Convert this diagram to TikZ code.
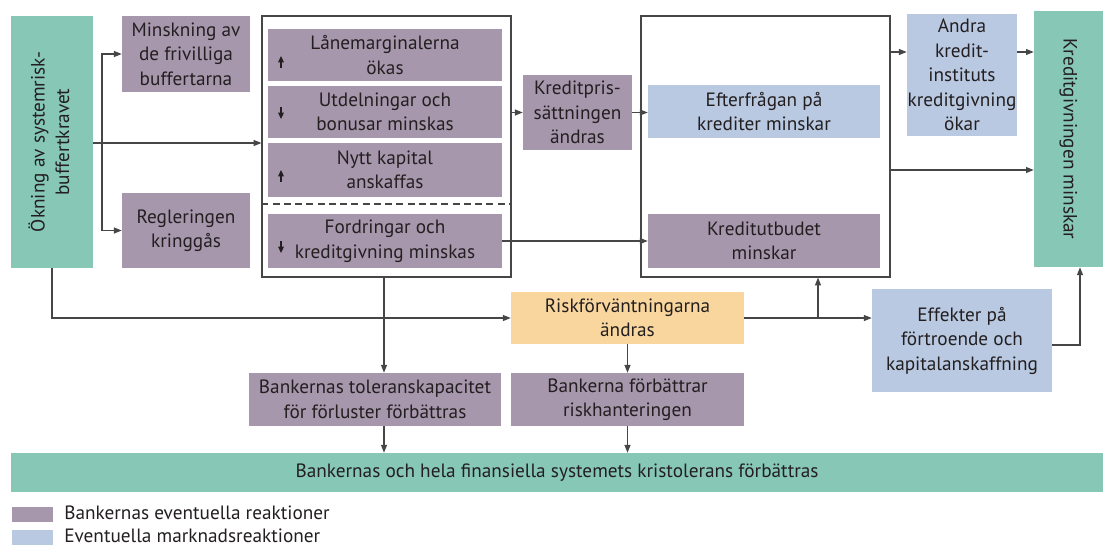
\documentclass[tikz,border=0pt]{standalone}
\usepackage{fontspec}
\setmainfont{PT Sans}
\usetikzlibrary{arrows.meta}

\definecolor{zise}{RGB}{167,151,173}
\definecolor{lanse}{RGB}{185,201,226}
\definecolor{lvse}{RGB}{135,199,182}
\definecolor{huangse}{RGB}{249,214,157}
\definecolor{xianse}{RGB}{70,70,70}
\definecolor{wenzi}{RGB}{35,31,32}

\begin{document}
\begin{tikzpicture}[x=0.025cm,y=-0.025cm,
  font=\fontsize{13.7}{17.4}\selectfont,text=wenzi,
  % 方框的大小:第一个参数是宽,第二个是高(单位都是像素)
  kuang/.style 2 args={minimum width=#1*0.025cm,minimum height=#2*0.025cm,
    inner sep=0pt,align=center},
  zihe/.style={fill=zise},
  lanhe/.style={fill=lanse},
  lvhe/.style={fill=lvse},
  huanghe/.style={fill=huangse},
  baikuang/.style={draw=xianse,line width=0.8pt,fill=white},
  % 连线和箭头
  jiantou/.style={draw=xianse,line width=0.8pt,-{Triangle[length=5.5pt,width=4.2pt]}},
  xiaojian/.style={draw=wenzi,line width=0.8pt,-{Triangle[length=4.5pt,width=4pt]}}]

  % 固定整张图的边界
  \useasboundingbox (0,0) rectangle (1103,547);

  % 左边和右边的绿色长条
  \node[lvhe,kuang={82}{252}] (okning) at (52,142)
    {\rotatebox{90}{\begin{tabular}{@{}c@{}}Ökning av systemrisk-\\buffertkravet\end{tabular}}};
  \node[lvhe,kuang={69}{256}] (kredmin) at (1068.5,139)
    {\rotatebox{-90}{Kreditgivningen minskar}};

  \node[zihe,kuang={128}{76}] (minsk) at (186,54) {Minskning av\\de frivilliga\\buffertarna};
  \node[zihe,kuang={128}{75}] (regl) at (186,230.5) {Regleringen\\kringgås};

  % 两个白色的大框
  \node[baikuang,kuang={249}{261}] (box1) at (386.5,146.5) {};
  \node[baikuang,kuang={249}{261}] (box2) at (765.5,146.5) {};

  % 第一个大框里面的方框
  \node[zihe,kuang={234}{52}] (lane) at (385,55) {Lånemarginalerna\\ökas};
  \node[zihe,kuang={234}{52}] (utdel) at (385,112) {Utdelningar och\\bonusar minskas};
  \node[zihe,kuang={234}{54}] (nytt) at (385,170) {Nytt kapital\\anskaffas};
  \node[zihe,kuang={234}{54}] (ford) at (385,241) {Fordringar och\\kreditgivning minskas};
  \draw[draw=xianse,line width=0.8pt,dash pattern=on 5pt off 3pt]
    (box1.west |- 0,204) -- (box1.east |- 0,204);

  % 小箭头
  \draw[xiaojian] (281,68) -- (281,56);
  \draw[xiaojian] (281,107) -- (281,119);
  \draw[xiaojian] (281,182) -- (281,170);
  \draw[xiaojian] (281,241) -- (281,253);

  \node[zihe,kuang={109}{75}] (kpris) at (577.5,112.5) {Kreditpris-\\sättningen\\ändras};

  % 第二个大框里面的方框
  \node[lanhe,kuang={232}{53}] (efter) at (764,111.5) {Efterfrågan på\\krediter minskar};
  \node[zihe,kuang={232}{54}] (kutbud) at (764,241) {Kreditutbudet\\minskar};

  \node[lanhe,kuang={110}{122}] (andra) at (962,75) {Andra\\kredit-\\instituts\\kreditgivning\\ökar};

  % 下面的几个方框
  \node[huanghe,kuang={233}{52}] (risk) at (627.5,318) {Riskförväntningarna\\ändras};
  \node[lanhe,kuang={180}{103}] (effekter) at (962,340.5) {Effekter på\\förtroende och\\kapitalanskaffning};
  \node[zihe,kuang={252}{53}] (tol) at (375,399.5) {Bankernas toleranskapacitet\\för förluster förbättras};
  \node[zihe,kuang={233}{53}] (forb) at (627.5,399.5) {Bankerna förbättrar\\riskhanteringen};
  \node[lvhe,kuang={1092}{39}] (bar) at (557,472.5)
    {Bankernas och hela finansiella systemets kristolerans förbättras};

  % 图例
  \node[zihe,kuang={41}{15}] (tuli1) at (32.5,514) {};
  \node[lanhe,kuang={41}{15}] (tuli2) at (32.5,537.5) {};
  \node[anchor=west,inner sep=0pt] (tulitext1) at (64,513) {Bankernas eventuella reaktioner};
  \node[anchor=west,inner sep=0pt] (tulitext2) at (64,536) {Eventuella marknadsreaktioner};

  % 连线
  \draw[jiantou] (okning.east |- 0,143) -- (box1.west |- 0,143);
  \coordinate (fencha) at (102,143);
  \draw[jiantou] (fencha) |- (minsk.west);
  \draw[jiantou] (fencha) |- (regl.west);
  \draw[jiantou] (box1.east |- kpris) -- (kpris.west);
  \draw[jiantou] (kpris.east) -- (efter.west |- kpris.east);
  \draw[jiantou] (ford.east) -- (kutbud.west);
  \draw[jiantou] (box2.east |- 0,52) -- (andra.west |- 0,52);
  \draw[jiantou] (andra.east |- 0,52) -- (kredmin.west |- 0,52);
  \draw[jiantou] (box2.east |- 0,170) -- (kredmin.west |- 0,170);
  \draw[jiantou] (okning.south) |- (risk.west);
  \draw[jiantou] (box1.south -| 384,0) -- (tol.north -| 384,0);
  \draw[jiantou] (risk.east) -| (box2.south -| 818,0);
  \draw[jiantou] (risk.east -| 818,0) -- (effekter.west |- risk.east);
  \draw[jiantou] (effekter.east |- 0,345) -| (kredmin.south -| 1080,0);
  \draw[jiantou] (risk.south) -- (forb.north);
  \draw[jiantou] (tol.south -| 384,0) -- (bar.north -| 384,0);
  \draw[jiantou] (forb.south) -- (bar.north -| forb.south);

\end{tikzpicture}
\end{document}
